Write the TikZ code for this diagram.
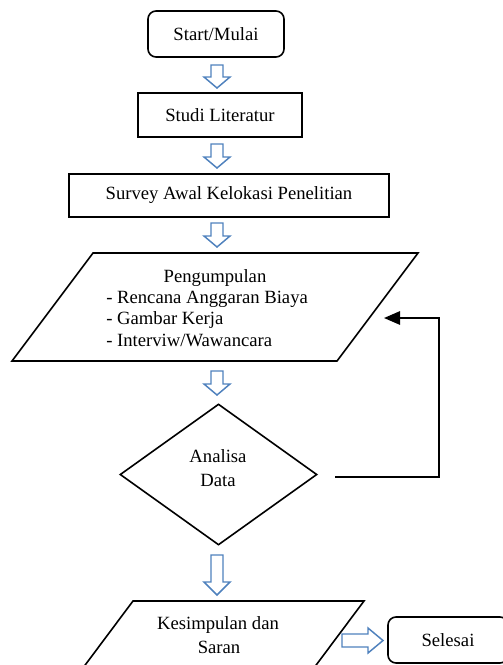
\documentclass[tikz,border=0pt]{standalone}
\usepackage{fontspec}
\setmainfont{Liberation Serif}
\usetikzlibrary{calc,arrows.meta,shapes.geometric}
\definecolor{arrblue}{RGB}{79,129,189}
\newcommand{\blkdown}[4]{% x, ytop, length, headlength
  \draw[blk] (#1-6,#2) -- (#1+6,#2) -- (#1+6,#2+#3-#4) -- (#1+13,#2+#3-#4) -- (#1,#2+#3) -- (#1-13,#2+#3-#4) -- (#1-6,#2+#3-#4) -- cycle;}
\begin{document}
\begin{tikzpicture}[x=0.75pt,y=-0.75pt,
  txt/.style={font=\fontsize{14}{16}\selectfont, inner sep=0pt},
  box/.style={draw, line width=1.2pt, inner sep=0pt, font=\fontsize{14}{16}\selectfont},
  rbox/.style={box, rounded corners=6pt},
  shp/.style={draw, line width=1.2pt},
  blk/.style={draw=arrblue, line width=1.1pt, line join=miter},
  fb/.style={draw, line width=1.4pt, -{Triangle[length=12pt,width=10pt]}}]
\clip (0,0) rectangle (503,665);

% boxes
\node[rbox, minimum width=102pt, minimum height=34.5pt] (start) at (216,34) {Start/Mulai};
\node[box, minimum width=123pt, minimum height=33pt] (studi) at (220,115) {Studi Literatur};
\node[box, minimum width=240pt, minimum height=32.25pt] (survey) at (229,195.5) {Survey Awal Kelokasi Penelitian};

% parallelogram 1
\draw[shp] (93,253) -- (418,253) -- (337,361) -- (12,361) -- cycle;
\node[txt, anchor=base] (p0) at (215,282) {Pengumpulan};
\node[txt, anchor=base west] (p1) at (106,303) {- Rencana Anggaran Biaya};
\node[txt, anchor=base west] (p2) at (106,324) {- Gambar Kerja};
\node[txt, anchor=base west] (p3) at (106,346) {- Interviw/Wawancara};

% diamond
\node[draw, line width=1.2pt, diamond, aspect=1.4, inner sep=0pt, minimum width=147.75pt, minimum height=105.75pt] (dia) at (218.5,474.5) {};
\node[txt, anchor=base] (d1) at (218,462) {Analisa};
\node[txt, anchor=base] (d2) at (218,486) {Data};

% parallelogram 2
\draw[shp] (133,601) -- (364,601) -- (290,700) -- (59,700) -- cycle;
\node[txt, anchor=base] (k1) at (218,629) {Kesimpulan dan};
\node[txt, anchor=base] (k2) at (219,653) {Saran};

% end box
\node[rbox, minimum width=90pt, minimum height=34.5pt] (end) at (448,640) {Selesai};

% block arrows
\blkdown{217}{65}{23}{11}
\blkdown{217}{144}{24}{11}
\blkdown{217}{223}{24}{11}
\blkdown{217}{371}{24}{11}
\blkdown{217}{555}{40}{13}
\draw[blk] (342,634) -- (368,634) -- (368,628) -- (383,640.5) -- (368,653) -- (368,647) -- (342,647) -- cycle;

% feedback connector
\coordinate (fbs) at (335,477);
\coordinate (fbe) at (384,318);
\draw[fb] (fbs) -- ++(104,0) |- (fbe);
\end{tikzpicture}
\end{document}
